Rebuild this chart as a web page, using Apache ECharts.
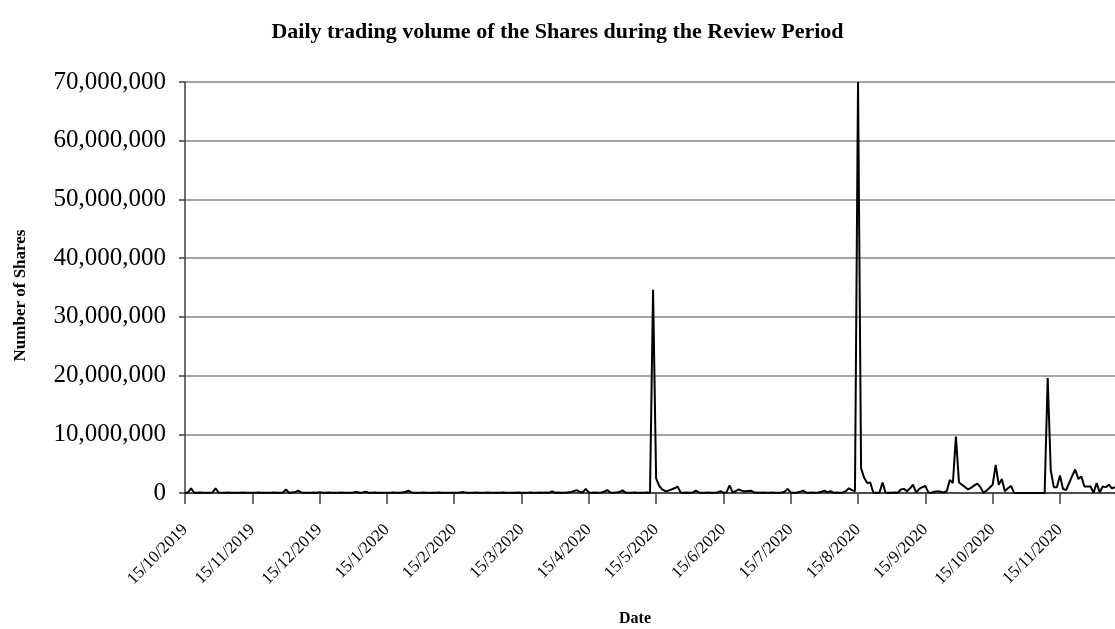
<!DOCTYPE html>
<html>
<head>
<meta charset="utf-8">
<script src="https://cdn.jsdelivr.net/npm/echarts@6/dist/echarts.min.js"></script>
<style>
  html, body { margin: 0; padding: 0; background: #fff; }
  #chart { width: 1115px; height: 629px; }
</style>
</head>
<body>
<div id="chart"></div>
<script>
// tick labels, one every 22 trading days
var tickLabels = ['15/10/2019','15/11/2019','15/12/2019','15/1/2020','15/2/2020','15/3/2020','15/4/2020',
                  '15/5/2020','15/6/2020','15/7/2020','15/8/2020','15/9/2020','15/10/2020','15/11/2020'];
var perTick = 22;

// daily volume (shares), one row per tick segment
var vol1910 = [50000,100000,800000,50000,50000,100000,50000,50000,50000,100000,800000,50000,50000,50000,100000,50000,50000,50000,50000,100000,50000,50000];
var vol1911 = [50000,50000,100000,50000,50000,50000,50000,100000,50000,50000,100000,600000,50000,100000,150000,400000,100000,50000,50000,50000,100000,50000];
var vol1912 = [150000,50000,50000,100000,50000,50000,50000,100000,50000,50000,50000,100000,200000,50000,100000,200000,50000,50000,100000,50000,50000,50000];
var vol2001 = [50000,50000,100000,50000,50000,100000,150000,400000,100000,50000,50000,50000,100000,50000,50000,50000,50000,100000,50000,50000,50000,50000];
var vol2002 = [50000,50000,100000,150000,50000,50000,50000,100000,50000,50000,50000,100000,50000,50000,50000,50000,100000,50000,50000,50000,50000,100000];
var vol2003 = [50000,50000,50000,100000,50000,50000,100000,50000,100000,50000,250000,50000,100000,50000,50000,100000,150000,300000,500000,200000,100000,700000];
var vol2004 = [100000,50000,100000,50000,100000,200000,500000,100000,50000,100000,150000,450000,100000,50000,50000,100000,50000,50000,50000,100000,50000,34600000];
var vol2005 = [2500000,1200000,600000,300000,400000,600000,800000,1100000,100000,50000,100000,50000,100000,400000,100000,50000,50000,100000,50000,50000,100000,300000];
var vol2006 = [50000,100000,1300000,100000,300000,600000,400000,300000,350000,400000,100000,100000,50000,100000,50000,50000,100000,50000,50000,100000,200000,700000];
var vol2007 = [100000,50000,100000,200000,400000,100000,50000,100000,50000,100000,200000,400000,100000,300000,50000,100000,50000,100000,300000,800000,500000,300000];
var vol2008 = [70000000,4200000,2600000,1700000,1800000,50000,50000,50000,1800000,50000,50000,50000,100000,50000,600000,700000,300000,800000,1400000,50000,700000,1000000];
var vol2009 = [1200000,100000,50000,200000,300000,200000,100000,300000,2200000,1700000,9600000,1800000,1400000,1000000,600000,900000,1300000,1600000,1000000,50000,400000,900000];
var vol2010 = [1400000,4800000,1400000,2400000,300000,800000,1200000,50000,0,0,0,0,0,0,0,0,0,0,19600000,3900000,1000000,1000000];
var vol2011 = [3000000,700000,500000,1700000,2900000,4000000,2400000,2800000,1100000,1100000,1100000,50000,1700000,100000,1100000,1000000,1400000,800000,1000000];

var volume = [].concat(vol1910, vol1911, vol1912, vol2001, vol2002, vol2003, vol2004,
                       vol2005, vol2006, vol2007, vol2008, vol2009, vol2010, vol2011);
var days = volume.map(function (v, i) { return String(i); });

var serif = 'Liberation Serif, Times New Roman, serif';
var myChart = echarts.init(document.getElementById('chart'));
var option = {
    animation: false,
    backgroundColor: '#fff',
    title: {
        text: 'Daily trading volume of the Shares during the Review Period',
        left: 'center',
        top: 16,
        textStyle: { fontFamily: serif, fontWeight: 'bold', fontSize: 22, color: '#000' }
    },
    grid: { left: 185, right: 0, top: 82, bottom: 136, outerBoundsMode: 'none' },
    xAxis: {
        type: 'category',
        boundaryGap: false,
        data: days,
        name: 'Date',
        nameLocation: 'middle',
        nameGap: 118,
        nameTextStyle: { fontFamily: serif, fontWeight: 'bold', fontSize: 16, color: '#000', padding: [0, 30, 0, 0] },
        axisLine: { lineStyle: { color: '#303030', width: 1.5 } },
        axisTick: { interval: perTick - 1, length: 11, lineStyle: { color: '#404040', width: 1.5 } },
        axisLabel: {
            interval: perTick - 1,
            rotate: 45,
            margin: 34,
            fontFamily: serif,
            fontSize: 17,
            color: '#000',
            formatter: function (v, i) { return tickLabels[i / perTick] || ''; }
        },
        splitLine: { show: false }
    },
    yAxis: {
        type: 'value',
        min: 0,
        max: 70000000,
        interval: 10000000,
        name: 'Number of Shares',
        nameLocation: 'middle',
        nameRotate: 90,
        nameGap: 156,
        nameTextStyle: { fontFamily: serif, fontWeight: 'bold', fontSize: 17, color: '#000', padding: [0, 16, 0, 0] },
        axisLine: { show: true, lineStyle: { color: '#404040', width: 1.5 } },
        axisTick: { show: true, length: 6, lineStyle: { color: '#404040', width: 1.5 } },
        axisLabel: {
            margin: 19,
            fontFamily: serif,
            fontSize: 25,
            color: '#000',
            formatter: function (v) { return v.toLocaleString('en-US'); }
        },
        splitLine: { lineStyle: { color: '#868686', width: 1.5 } }
    },
    series: [{
        name: 'Volume',
        type: 'line',
        data: volume,
        symbol: 'none',
        lineStyle: { color: '#000', width: 2 }
    }]
};
myChart.setOption(option);
</script>
</body>
</html>
